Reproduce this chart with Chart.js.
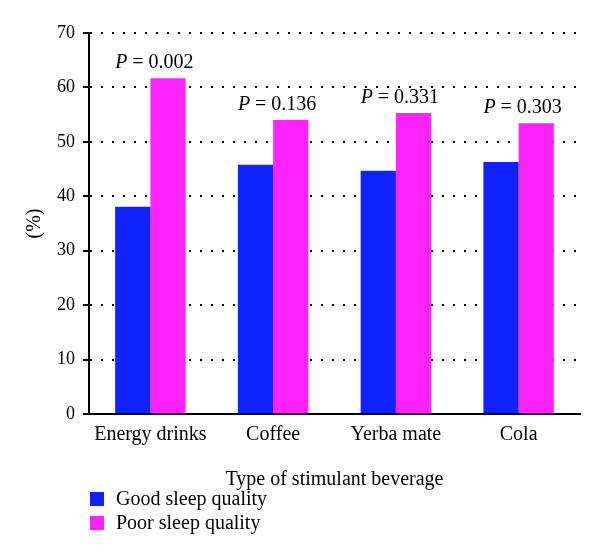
<!DOCTYPE html>
<html lang="en">
<head>
    <meta charset="UTF-8">
    <title>Stimulant beverages and sleep quality</title>
    <script src="https://cdn.jsdelivr.net/npm/chart.js"></script>
    <style>
        body { margin: 0; background: #fff; }
    </style>
</head>
<body>
    <canvas id="chart" width="600" height="557"></canvas>
    <script>
        const categories = ['Energy drinks', 'Coffee', 'Yerba mate', 'Cola'];
        const goodSleep = [38.1, 45.8, 44.7, 46.3];
        const poorSleep = [61.7, 54.0, 55.3, 53.4];
        const pValues = ['0.002', '0.136', '0.331', '0.303'];
        const yTicks = [0, 10, 20, 30, 40, 50, 60, 70];

        const FONT = '"Liberation Serif", "DejaVu Serif", serif';
        const BLUE = '#0F22FF';
        const PINK = '#FF24FF';

        // P value above each pair of bars
        const pLabels = {
            id: 'pLabels',
            afterDatasetsDraw(chart) {
                const ctx = chart.ctx;
                const xs = chart.scales.x, ys = chart.scales.y;
                ctx.save();
                ctx.fillStyle = '#000';
                ctx.textBaseline = 'alphabetic';
                pValues.forEach((p, i) => {
                    const top = ys.getPixelForValue(Math.max(goodSleep[i], poorSleep[i]));
                    const cx = xs.getPixelForValue(i) + 4;
                    const y = top - 10;
                    ctx.font = 'italic 20px ' + FONT;
                    const w1 = ctx.measureText('P').width;
                    ctx.font = '20px ' + FONT;
                    const rest = ' = ' + p;
                    const w2 = ctx.measureText(rest).width;
                    let x = cx - (w1 + w2) / 2;
                    ctx.textAlign = 'left';
                    ctx.font = 'italic 20px ' + FONT;
                    ctx.fillText('P', x, y);
                    ctx.font = '20px ' + FONT;
                    ctx.fillText(rest, x + w1, y);
                });
                ctx.restore();
            }
        };

        // legend stacked in two rows under the axis title
        const stackedLegend = {
            id: 'stackedLegend',
            afterDraw(chart) {
                const ctx = chart.ctx;
                const left = chart.chartArea.left + 1;
                ctx.save();
                ctx.font = '20px ' + FONT;
                ctx.textBaseline = 'middle';
                ctx.textAlign = 'left';
                chart.data.datasets.forEach((ds, i) => {
                    const cy = chart.height - 58 + i * 24;
                    ctx.fillStyle = ds.backgroundColor;
                    ctx.fillRect(left, cy - 7, 14, 14);
                    ctx.fillStyle = '#000';
                    ctx.fillText(ds.label, left + 26, cy + 1);
                });
                ctx.restore();
            }
        };

        new Chart(document.getElementById('chart'), {
            type: 'bar',
            data: {
                labels: categories,
                datasets: [
                    { label: 'Good sleep quality', data: goodSleep, backgroundColor: BLUE },
                    { label: 'Poor sleep quality', data: poorSleep, backgroundColor: PINK }
                ]
            },
            options: {
                responsive: false,
                animation: false,
                layout: { padding: { top: 33, right: 20, bottom: 65, left: 23 } },
                datasets: {
                    bar: { categoryPercentage: 0.574, barPercentage: 1.0 }
                },
                plugins: {
                    legend: { display: false },
                    tooltip: { enabled: false }
                },
                scales: {
                    x: {
                        grid: { display: false },
                        border: { display: true, color: '#000', width: 2 },
                        ticks: { color: '#000', font: { family: FONT, size: 20 }, padding: 1 },
                        title: {
                            display: true,
                            text: 'Type of stimulant beverage',
                            color: '#000',
                            font: { family: FONT, size: 20 },
                            padding: { top: 20, bottom: 0 }
                        }
                    },
                    y: {
                        min: 0,
                        max: 70,
                        afterBuildTicks(scale) {
                            scale.ticks = yTicks.map(v => ({ value: v }));
                        },
                        grid: {
                            color: '#000',
                            lineWidth: 2,
                            tickLength: 6,
                            tickBorderDash: []
                        },
                        border: { display: true, color: '#000', width: 2, dash: [2, 9] },
                        ticks: { color: '#000', font: { family: FONT, size: 18 }, padding: 8 },
                        title: {
                            display: true,
                            text: '(%)',
                            color: '#000',
                            font: { family: FONT, size: 20 },
                            padding: { top: 0, bottom: 2 }
                        }
                    }
                }
            },
            plugins: [pLabels, stackedLegend]
        });
    </script>
</body>
</html>
